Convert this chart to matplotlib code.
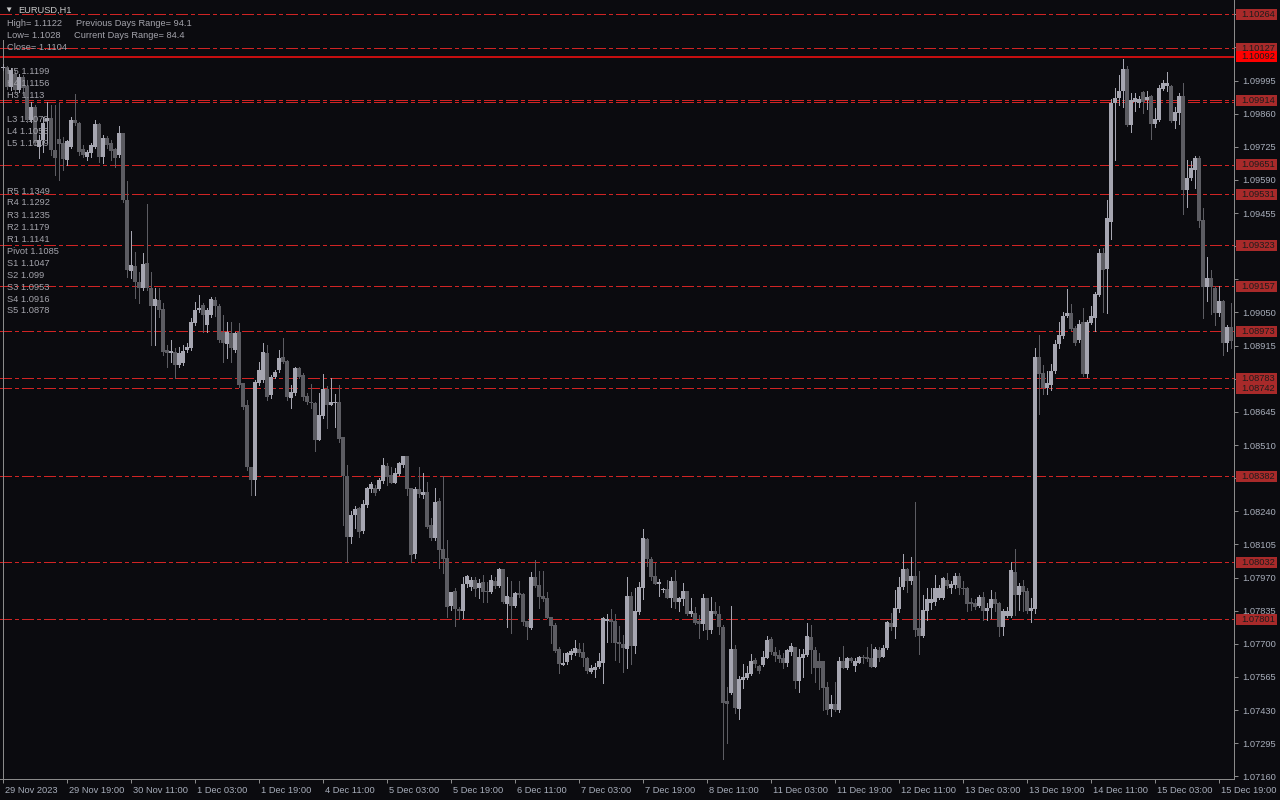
import matplotlib
matplotlib.use("Agg")
import matplotlib.pyplot as plt
import matplotlib.transforms as mtransforms
from matplotlib.patches import Rectangle

# EURUSD H1 candles, 29 Nov 2023 03:00 -> 15 Dec 2023 22:00 (308 bars)
opens = [
    1.10046, 1.10050, 1.09969, 1.10022, 1.09956, 1.10009, 1.09973, 1.09834, 1.09887, 1.09724,
    1.09753, 1.09830, 1.09842, 1.09712, 1.09757, 1.09740, 1.09671, 1.09724, 1.09834, 1.09822,
    1.09716, 1.09683, 1.09700, 1.09724, 1.09818, 1.09683, 1.09761, 1.09740, 1.09716, 1.09692,
    1.09781, 1.09508, 1.09219, 1.09239, 1.09174, 1.09150, 1.09251, 1.09150, 1.09076, 1.09101,
    1.09064, 1.08897, 1.08885, 1.08889, 1.08836, 1.08844, 1.08897, 1.08905, 1.09007, 1.09060,
    1.09080, 1.08999, 1.09040, 1.09101, 1.09076, 1.08970, 1.08922, 1.08966, 1.08897, 1.08970,
    1.08763, 1.08673, 1.08420, 1.08368, 1.08763, 1.08775, 1.08885, 1.08714, 1.08787, 1.08816,
    1.08869, 1.08852, 1.08702, 1.08722, 1.08824, 1.08795, 1.08710, 1.08685, 1.08681, 1.08531,
    1.08628, 1.08738, 1.08673, 1.08681, 1.08685, 1.08543, 1.08384, 1.08135, 1.08225, 1.08253,
    1.08160, 1.08266, 1.08331, 1.08335, 1.08331, 1.08363, 1.08425, 1.08388, 1.08355, 1.08392,
    1.08429, 1.08465, 1.08335, 1.08066, 1.08331, 1.08306, 1.08319, 1.08184, 1.08131, 1.08282,
    1.08086, 1.08050, 1.07854, 1.07915, 1.07842, 1.07834, 1.07944, 1.07932, 1.07960, 1.07927,
    1.07952, 1.07915, 1.07911, 1.07956, 1.07936, 1.08005, 1.07862, 1.07891, 1.07854, 1.07907,
    1.07903, 1.07793, 1.07765, 1.07972, 1.07940, 1.07895, 1.07887, 1.07809, 1.07777, 1.07679,
    1.07614, 1.07626, 1.07655, 1.07663, 1.07679, 1.07667, 1.07642, 1.07585, 1.07593, 1.07606,
    1.07622, 1.07793, 1.07797, 1.07793, 1.07707, 1.07699, 1.07679, 1.07895, 1.07691, 1.07830,
    1.07927, 1.08127, 1.08046, 1.07976, 1.07944, 1.07919, 1.07923, 1.07887, 1.07956, 1.07870,
    1.07883, 1.07915, 1.07822, 1.07826, 1.07793, 1.07781, 1.07887, 1.07756, 1.07834, 1.07822,
    1.07769, 1.07467, 1.07500, 1.07679, 1.07435, 1.07553, 1.07561, 1.07577, 1.07634, 1.07610,
    1.07614, 1.07642, 1.07720, 1.07667, 1.07655, 1.07642, 1.07622, 1.07667, 1.07687, 1.07549,
    1.07642, 1.07655, 1.07728, 1.07675, 1.07630, 1.07630, 1.07524, 1.07435, 1.07455, 1.07430,
    1.07630, 1.07602, 1.07642, 1.07610, 1.07622, 1.07646, 1.07646, 1.07642, 1.07606, 1.07675,
    1.07646, 1.07683, 1.07785, 1.07769, 1.07842, 1.07932, 1.08005, 1.07956, 1.07976, 1.07765,
    1.07732, 1.07834, 1.07866, 1.07870, 1.07887, 1.07887, 1.07960, 1.07927, 1.07940, 1.07976,
    1.07927, 1.07927, 1.07870, 1.07866, 1.07854, 1.07891, 1.07834, 1.07846, 1.07883, 1.07866,
    1.07769, 1.07813, 1.07813, 1.07993, 1.07899, 1.07936, 1.07915, 1.07834, 1.07842, 1.08869,
    1.08803, 1.08742, 1.08755, 1.08812, 1.08922, 1.08954, 1.09036, 1.09048, 1.08987, 1.08938,
    1.09011, 1.08799, 1.09007, 1.09027, 1.09121, 1.09292, 1.09227, 1.09419, 1.09903, 1.09924,
    1.09952, 1.10042, 1.09814, 1.09907, 1.09903, 1.09948, 1.09915, 1.09932, 1.09818, 1.09834,
    1.09960, 1.09973, 1.09973, 1.09830, 1.09863, 1.09932, 1.09549, 1.09598, 1.09630, 1.09679,
    1.09427, 1.09154, 1.09190, 1.09150, 1.09048, 1.09097, 1.08926, 1.08991,
]
highs = [
    1.10062, 1.10054, 1.10046, 1.10038, 1.10022, 1.10017, 1.09997, 1.09907, 1.09895, 1.09773,
    1.09846, 1.09907, 1.09895, 1.09895, 1.09903, 1.09765, 1.09753, 1.09846, 1.09940, 1.09826,
    1.09732, 1.09712, 1.09740, 1.09834, 1.09822, 1.09773, 1.09769, 1.09753, 1.09720, 1.09810,
    1.09781, 1.09586, 1.09382, 1.09296, 1.09215, 1.09292, 1.09492, 1.09215, 1.09150, 1.09150,
    1.09089, 1.08918, 1.08938, 1.08905, 1.08909, 1.08918, 1.08926, 1.09027, 1.09093, 1.09121,
    1.09089, 1.09068, 1.09113, 1.09113, 1.09085, 1.09040, 1.09011, 1.09011, 1.08970, 1.09007,
    1.08763, 1.08693, 1.08420, 1.08775, 1.08848, 1.08926, 1.08918, 1.08795, 1.08816, 1.08897,
    1.08946, 1.08856, 1.08755, 1.08828, 1.08828, 1.08803, 1.08722, 1.08759, 1.08685, 1.08722,
    1.08799, 1.08750, 1.08783, 1.08718, 1.08755, 1.08543, 1.08429, 1.08241, 1.08262, 1.08257,
    1.08286, 1.08339, 1.08359, 1.08347, 1.08376, 1.08457, 1.08437, 1.08420, 1.08416, 1.08441,
    1.08465, 1.08465, 1.08335, 1.08339, 1.08420, 1.08396, 1.08359, 1.08213, 1.08335, 1.08294,
    1.08384, 1.08123, 1.07911, 1.07927, 1.07850, 1.07972, 1.07980, 1.07972, 1.07972, 1.07964,
    1.07980, 1.07952, 1.07980, 1.07972, 1.08009, 1.08005, 1.07972, 1.07956, 1.07911, 1.07956,
    1.07907, 1.07793, 1.07993, 1.08042, 1.07997, 1.07997, 1.07911, 1.07809, 1.07785, 1.07687,
    1.07663, 1.07667, 1.07679, 1.07716, 1.07703, 1.07703, 1.07646, 1.07614, 1.07622, 1.07663,
    1.07809, 1.07822, 1.07842, 1.07822, 1.07773, 1.07736, 1.07972, 1.07911, 1.07927, 1.07952,
    1.08168, 1.08131, 1.08054, 1.08029, 1.07964, 1.07927, 1.07960, 1.07972, 1.08001, 1.07891,
    1.07948, 1.07915, 1.07887, 1.07850, 1.07818, 1.07903, 1.07887, 1.07891, 1.07870, 1.07854,
    1.07777, 1.07524, 1.07854, 1.07695, 1.07569, 1.07618, 1.07610, 1.07659, 1.07642, 1.07614,
    1.07671, 1.07732, 1.07728, 1.07687, 1.07675, 1.07663, 1.07679, 1.07703, 1.07687, 1.07679,
    1.07679, 1.07785, 1.07777, 1.07687, 1.07663, 1.07630, 1.07545, 1.07492, 1.07545, 1.07646,
    1.07691, 1.07646, 1.07646, 1.07642, 1.07651, 1.07655, 1.07687, 1.07699, 1.07687, 1.07687,
    1.07695, 1.07793, 1.07826, 1.07919, 1.07972, 1.08066, 1.08009, 1.08054, 1.08278, 1.07997,
    1.07899, 1.07927, 1.07927, 1.07980, 1.07940, 1.07972, 1.07989, 1.07956, 1.07989, 1.07989,
    1.07956, 1.07932, 1.07887, 1.07883, 1.07899, 1.07911, 1.07866, 1.07919, 1.07911, 1.07870,
    1.07842, 1.07850, 1.08033, 1.08086, 1.07948, 1.07960, 1.07927, 1.07887, 1.08905, 1.08958,
    1.08836, 1.08812, 1.08840, 1.08938, 1.09011, 1.09052, 1.09146, 1.09085, 1.08995, 1.09019,
    1.09068, 1.09019, 1.09076, 1.09133, 1.09309, 1.09313, 1.09508, 1.09920, 1.09964, 1.10017,
    1.10083, 1.10054, 1.09944, 1.09944, 1.09932, 1.09952, 1.09952, 1.09936, 1.09883, 1.09976,
    1.09997, 1.10030, 1.09976, 1.09887, 1.09944, 1.09985, 1.09671, 1.09667, 1.09687, 1.09687,
    1.09476, 1.09276, 1.09223, 1.09158, 1.09158, 1.09101, 1.08999, 1.09089,
]
lows = [
    1.10038, 1.09960, 1.09956, 1.09944, 1.09948, 1.09936, 1.09826, 1.09826, 1.09732, 1.09679,
    1.09704, 1.09744, 1.09692, 1.09610, 1.09590, 1.09630, 1.09651, 1.09720, 1.09814, 1.09692,
    1.09683, 1.09671, 1.09683, 1.09720, 1.09663, 1.09659, 1.09720, 1.09671, 1.09643, 1.09683,
    1.09500, 1.09195, 1.09190, 1.09109, 1.09089, 1.09142, 1.09142, 1.08917, 1.08917, 1.09032,
    1.08877, 1.08828, 1.08848, 1.08783, 1.08828, 1.08836, 1.08889, 1.08897, 1.08999, 1.09052,
    1.08970, 1.08970, 1.09032, 1.09036, 1.08930, 1.08848, 1.08865, 1.08848, 1.08889, 1.08746,
    1.08657, 1.08408, 1.08306, 1.08306, 1.08755, 1.08767, 1.08693, 1.08702, 1.08783, 1.08807,
    1.08844, 1.08693, 1.08661, 1.08714, 1.08783, 1.08693, 1.08677, 1.08661, 1.08486, 1.08531,
    1.08620, 1.08579, 1.08673, 1.08583, 1.08522, 1.08184, 1.08033, 1.08111, 1.08172, 1.08135,
    1.08152, 1.08257, 1.08319, 1.08306, 1.08327, 1.08355, 1.08347, 1.08355, 1.08355, 1.08388,
    1.08420, 1.08306, 1.08033, 1.08050, 1.08298, 1.08294, 1.08172, 1.08123, 1.08123, 1.08009,
    1.07989, 1.07809, 1.07838, 1.07773, 1.07801, 1.07805, 1.07932, 1.07919, 1.07895, 1.07887,
    1.07870, 1.07870, 1.07907, 1.07927, 1.07932, 1.07866, 1.07769, 1.07744, 1.07850, 1.07891,
    1.07777, 1.07720, 1.07761, 1.07932, 1.07846, 1.07875, 1.07805, 1.07703, 1.07667, 1.07581,
    1.07614, 1.07618, 1.07638, 1.07655, 1.07651, 1.07610, 1.07581, 1.07581, 1.07565, 1.07602,
    1.07540, 1.07707, 1.07707, 1.07634, 1.07626, 1.07585, 1.07602, 1.07618, 1.07663, 1.07822,
    1.07883, 1.08017, 1.07960, 1.07944, 1.07895, 1.07911, 1.07887, 1.07850, 1.07846, 1.07834,
    1.07858, 1.07818, 1.07813, 1.07781, 1.07724, 1.07756, 1.07720, 1.07744, 1.07818, 1.07740,
    1.07231, 1.07296, 1.07496, 1.07418, 1.07394, 1.07520, 1.07557, 1.07573, 1.07606, 1.07581,
    1.07610, 1.07642, 1.07659, 1.07630, 1.07626, 1.07602, 1.07610, 1.07655, 1.07520, 1.07504,
    1.07565, 1.07651, 1.07581, 1.07545, 1.07516, 1.07430, 1.07414, 1.07406, 1.07426, 1.07422,
    1.07602, 1.07598, 1.07626, 1.07589, 1.07622, 1.07622, 1.07630, 1.07606, 1.07606, 1.07630,
    1.07646, 1.07679, 1.07756, 1.07724, 1.07830, 1.07923, 1.07911, 1.07944, 1.07732, 1.07659,
    1.07728, 1.07797, 1.07842, 1.07858, 1.07883, 1.07883, 1.07927, 1.07907, 1.07927, 1.07903,
    1.07903, 1.07834, 1.07838, 1.07842, 1.07850, 1.07797, 1.07797, 1.07805, 1.07834, 1.07732,
    1.07736, 1.07809, 1.07809, 1.07818, 1.07838, 1.07834, 1.07826, 1.07789, 1.07826, 1.08636,
    1.08718, 1.08718, 1.08734, 1.08803, 1.08905, 1.08946, 1.09032, 1.08979, 1.08918, 1.08930,
    1.08791, 1.08787, 1.09003, 1.08975, 1.09117, 1.09052, 1.09048, 1.09349, 1.09671, 1.09895,
    1.09887, 1.09810, 1.09785, 1.09871, 1.09887, 1.09863, 1.09879, 1.09757, 1.09806, 1.09830,
    1.09956, 1.09952, 1.09826, 1.09802, 1.09818, 1.09451, 1.09480, 1.09590, 1.09557, 1.09398,
    1.09027, 1.09097, 1.09044, 1.08999, 1.09036, 1.08877, 1.08893, 1.08905,
]
closes = [
    1.10050, 1.09969, 1.10038, 1.09956, 1.10009, 1.09964, 1.09834, 1.09887, 1.09740, 1.09753,
    1.09822, 1.09842, 1.09712, 1.09679, 1.09736, 1.09675, 1.09749, 1.09834, 1.09822, 1.09704,
    1.09692, 1.09704, 1.09732, 1.09818, 1.09683, 1.09761, 1.09732, 1.09708, 1.09679, 1.09781,
    1.09508, 1.09223, 1.09243, 1.09174, 1.09150, 1.09247, 1.09150, 1.09076, 1.09105, 1.09060,
    1.08889, 1.08885, 1.08893, 1.08836, 1.08885, 1.08893, 1.08909, 1.09011, 1.09060, 1.09068,
    1.09040, 1.09060, 1.09105, 1.09076, 1.08938, 1.08926, 1.08970, 1.08905, 1.08966, 1.08755,
    1.08665, 1.08420, 1.08368, 1.08767, 1.08816, 1.08889, 1.08706, 1.08787, 1.08807, 1.08865,
    1.08848, 1.08706, 1.08726, 1.08824, 1.08787, 1.08706, 1.08685, 1.08681, 1.08531, 1.08632,
    1.08738, 1.08673, 1.08685, 1.08685, 1.08535, 1.08384, 1.08135, 1.08225, 1.08249, 1.08156,
    1.08270, 1.08335, 1.08351, 1.08315, 1.08368, 1.08429, 1.08380, 1.08355, 1.08396, 1.08437,
    1.08465, 1.08331, 1.08062, 1.08331, 1.08310, 1.08319, 1.08176, 1.08131, 1.08278, 1.08082,
    1.08046, 1.07850, 1.07911, 1.07842, 1.07834, 1.07944, 1.07976, 1.07960, 1.07923, 1.07948,
    1.07911, 1.07911, 1.07960, 1.07936, 1.08005, 1.07870, 1.07895, 1.07854, 1.07907, 1.07899,
    1.07789, 1.07769, 1.07972, 1.07936, 1.07891, 1.07883, 1.07805, 1.07773, 1.07671, 1.07618,
    1.07622, 1.07663, 1.07671, 1.07683, 1.07663, 1.07642, 1.07589, 1.07602, 1.07606, 1.07630,
    1.07805, 1.07801, 1.07789, 1.07703, 1.07699, 1.07683, 1.07895, 1.07691, 1.07834, 1.07932,
    1.08131, 1.08046, 1.07972, 1.07944, 1.07952, 1.07923, 1.07887, 1.07956, 1.07870, 1.07887,
    1.07915, 1.07822, 1.07834, 1.07785, 1.07781, 1.07887, 1.07756, 1.07834, 1.07822, 1.07769,
    1.07459, 1.07455, 1.07679, 1.07439, 1.07557, 1.07565, 1.07581, 1.07630, 1.07618, 1.07589,
    1.07646, 1.07716, 1.07667, 1.07651, 1.07638, 1.07622, 1.07675, 1.07691, 1.07549, 1.07646,
    1.07659, 1.07732, 1.07675, 1.07602, 1.07602, 1.07520, 1.07430, 1.07455, 1.07430, 1.07630,
    1.07602, 1.07642, 1.07630, 1.07630, 1.07646, 1.07642, 1.07638, 1.07606, 1.07679, 1.07642,
    1.07683, 1.07789, 1.07769, 1.07846, 1.07932, 1.08005, 1.07956, 1.07976, 1.07756, 1.07732,
    1.07838, 1.07883, 1.07883, 1.07927, 1.07927, 1.07968, 1.07936, 1.07944, 1.07976, 1.07927,
    1.07923, 1.07862, 1.07862, 1.07850, 1.07891, 1.07834, 1.07846, 1.07883, 1.07862, 1.07769,
    1.07834, 1.07834, 1.08001, 1.07899, 1.07936, 1.07911, 1.07834, 1.07846, 1.08869, 1.08799,
    1.08742, 1.08763, 1.08812, 1.08922, 1.08958, 1.09036, 1.09048, 1.08983, 1.08926, 1.09003,
    1.08799, 1.09011, 1.09036, 1.09125, 1.09292, 1.09223, 1.09435, 1.09903, 1.09924, 1.09952,
    1.10042, 1.09814, 1.09915, 1.09924, 1.09920, 1.09907, 1.09928, 1.09818, 1.09838, 1.09964,
    1.09985, 1.09985, 1.09830, 1.09867, 1.09932, 1.09549, 1.09598, 1.09639, 1.09679, 1.09423,
    1.09154, 1.09190, 1.09154, 1.09048, 1.09097, 1.08926, 1.08991, 1.08934,
]

time_labels = ["29 Nov 2023", "29 Nov 19:00", "30 Nov 11:00", "1 Dec 03:00", "1 Dec 19:00",
               "4 Dec 11:00", "5 Dec 03:00", "5 Dec 19:00", "6 Dec 11:00", "7 Dec 03:00",
               "7 Dec 19:00", "8 Dec 11:00", "11 Dec 03:00", "11 Dec 19:00", "12 Dec 11:00",
               "13 Dec 03:00", "13 Dec 19:00", "14 Dec 11:00", "15 Dec 03:00", "15 Dec 19:00"]
label_every = 16

price_ticks = [1.07160, 1.07295, 1.07430, 1.07565, 1.07700, 1.07835, 1.07970, 1.08105,
               1.08240, 1.08375, 1.08510, 1.08645, 1.08780, 1.08915, 1.09050, 1.09185,
               1.09320, 1.09455, 1.09590, 1.09725, 1.09860, 1.09995, 1.10130, 1.10265]

# horizontal levels (dash-dot) with their price tags
levels = [1.10264, 1.10127, 1.09914, 1.09651, 1.09531, 1.09323, 1.09157,
          1.08973, 1.08783, 1.08742, 1.08382, 1.08032, 1.07801]
extra_level = 1.09906        # second line of the pair near 1.09914, tag hidden
main_level = 1.10092         # solid bright line

pivot_names = ["H5", "H4", "H3", "L3", "L4", "L5", "R5", "R4", "R3", "R2", "R1",
               "Pivot", "S1", "S2", "S3", "S4", "S5"]
pivot_values = ["1.1199", "1.1156", "1.113", "1.1078", "1.1053", "1.1009", "1.1349",
                "1.1292", "1.1235", "1.1179", "1.1141", "1.1085", "1.1047", "1.099",
                "1.0953", "1.0916", "1.0878"]
pivot_rows = [0, 1, 2, 4, 5, 6, 10, 11, 12, 13, 14, 15, 16, 17, 18, 19, 20]

header_left = ["High= 1.1122", "Low= 1.1028", "Close= 1.1104"]
header_right = ["Previous Days Range= 94.1", "Current Days Range= 84.4"]

BG = "#0b0b0f"
BULL = "#a6a6b1"
BEAR = "#5c5c62"
TXT = "#a4a4ac"
AXC = "#8a8a8a"
LVL = "#d02424"
TAG = "#a82a2a"
FONT = ["Liberation Sans", "DejaVu Sans"]
FS = 6.7
LW1 = 0.72                      # one device pixel at 100 dpi

W, H = 1280, 800
YLO, YHI = 1.071494, 1.10323
PX = (YHI - YLO) / 779          # price per pixel row

fig = plt.figure(figsize=(12.8, 8), dpi=100, facecolor=BG)
ax = fig.add_axes([0, 21 / H, 1234 / W, 779 / H], facecolor=BG)

n = len(closes)
xs = list(range(n))
ax.set_xlim(-0.75, n - 0.25)
ax.set_ylim(YLO, YHI)

# candles
cols = [BULL if c >= o else BEAR for o, c in zip(opens, closes)]
ax.vlines(xs, lows, highs, colors=cols, lw=LW1, zorder=3, antialiased=False)
bottoms = [min(o, c) for o, c in zip(opens, closes)]
heights = [max(abs(c - o), PX) for o, c in zip(opens, closes)]
ax.bar(xs, heights, bottom=bottoms, width=0.8, color=cols, lw=0, zorder=4,
       antialiased=False)

# levels
dashdot = (0, (11, 4, 3, 4))
for p in levels + [extra_level]:
    ax.axhline(p, color=LVL, lw=LW1, linestyle=dashdot, zorder=2, antialiased=False)
ax.axhline(main_level, color="#ff1010", lw=1.1, zorder=2)
ax.axvline(0, ymin=0, ymax=1 - 40 / 779, color=AXC, lw=LW1, zorder=2, antialiased=False)

# axes styling
for s in ["left", "top"]:
    ax.spines[s].set_visible(False)
for s in ["right", "bottom"]:
    ax.spines[s].set_color(AXC)
    ax.spines[s].set_linewidth(LW1)

ax.yaxis.tick_right()
ax.set_yticks(price_ticks)
# labels that sit right under a price tag are covered in the terminal
ax.set_yticklabels(["" if min(abs(p - q) for q in levels + [main_level]) < 7.5 * PX
                    else f"{p:.5f}" for p in price_ticks])
ax.tick_params(axis="y", colors=AXC, length=3, width=LW1, pad=3,
               labelcolor="#a8aebb", labelsize=FS)

tick_pos = [k * label_every for k in range(len(time_labels))]
ax.set_xticks(tick_pos)
ax.set_xticklabels(time_labels)
ax.tick_params(axis="x", colors=AXC, length=3, width=LW1, pad=2,
               labelcolor="#a8aebb", labelsize=FS)
off = mtransforms.ScaledTranslation(2 / 100, 0, fig.dpi_scale_trans)
for lab in ax.get_xticklabels() + ax.get_yticklabels():
    lab.set_fontfamily(FONT)
for lab in ax.get_xticklabels():
    lab.set_horizontalalignment("left")
    lab.set_transform(lab.get_transform() + off)

# price tags on the right axis
blend = mtransforms.blended_transform_factory(ax.transAxes, ax.transData)
tag_h = 11 * PX
for p, fc, tc in [(v, TAG, "#1c1c1c") for v in levels] + [(main_level, "#ff0000", "#1c1c1c")]:
    ax.add_patch(Rectangle((1 + 2 / 1234, p - tag_h / 2), 41 / 1234, tag_h,
                           transform=blend, facecolor=fc, edgecolor="none",
                           clip_on=False, zorder=6))
    ax.text(1 + 7 / 1234, p, f"{p:.5f}", transform=blend, ha="left", va="center",
            fontsize=FS, color=tc, family=FONT, zorder=7, clip_on=False)

# header
def px(x, y):
    return x / W, 1 - y / H

fig.text(*px(4, 10), "\u25bc", fontsize=6, color="#c8c8c8", family=FONT, va="center")
fig.text(*px(18, 10), "EURUSD,H1", fontsize=FS, color="#c8c8c8", family=FONT, va="center")
for k, t in enumerate(header_left):
    fig.text(*px(7, 23 + 12 * k), t, fontsize=FS, color=TXT, family=FONT, va="center")
for k, t in enumerate(header_right):
    fig.text(*px(76 - 2 * k, 23 + 12 * k), t, fontsize=FS, color=TXT, family=FONT, va="center")

for name, val, row in zip(pivot_names, pivot_values, pivot_rows):
    fig.text(*px(7, 71 + 12 * row), f"{name} {val}", fontsize=FS, color=TXT,
             family=FONT, va="center", zorder=1)

fig.savefig("out.png", dpi=100, facecolor=BG)
